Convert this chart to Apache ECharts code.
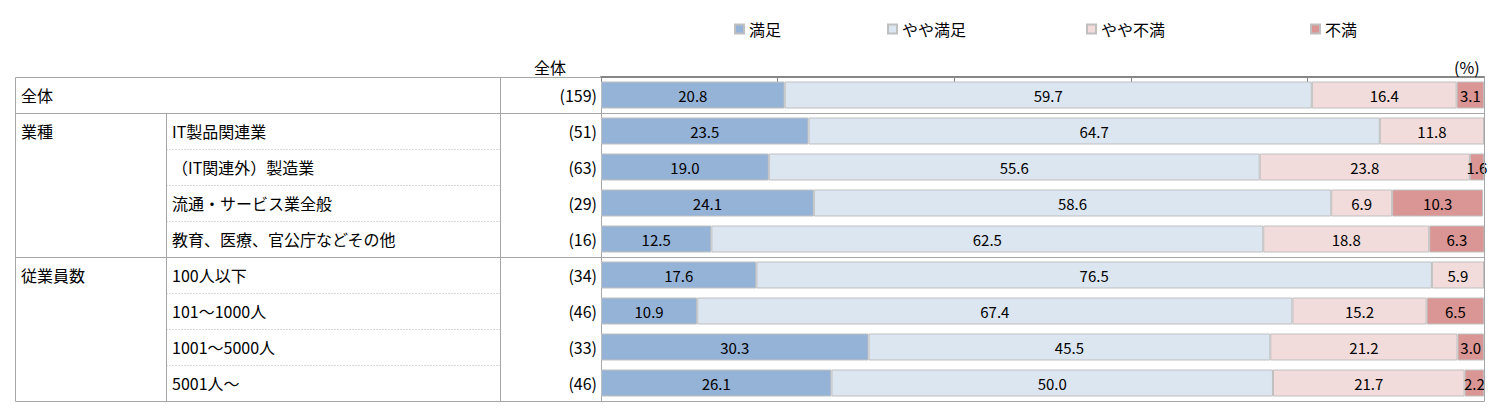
<!DOCTYPE html>
<html lang="ja">
<head>
<meta charset="UTF-8">
<title>満足度</title>
<script src="https://cdn.jsdelivr.net/npm/echarts@6/dist/echarts.min.js"></script>
<style>
    html, body { margin: 0; padding: 0; background: #fff; }
    #main { width: 1502px; height: 420px; }
</style>
</head>
<body>
<div id="main"></div>
<script>
    // 表の行見出し
    var groups = ['全体', '業種', '', '', '', '従業員数', '', '', ''];
    var subs = ['', 'IT製品関連業', '（IT関連外）製造業', '流通・サービス業全般', '教育、医療、官公庁などその他',
        '100人以下', '101～1000人', '1001～5000人', '5001人～'];
    var counts = ['(159)', '(51)', '(63)', '(29)', '(16)', '(34)', '(46)', '(33)', '(46)'];

    // 回答割合 (%)
    var seriesNames = ['満足', 'やや満足', 'やや不満', '不満'];
    var manzoku = [20.8, 23.5, 19.0, 24.1, 12.5, 17.6, 10.9, 30.3, 26.1];
    var yayaManzoku = [59.7, 64.7, 55.6, 58.6, 62.5, 76.5, 67.4, 45.5, 50.0];
    var yayaFuman = [16.4, 11.8, 23.8, 6.9, 18.8, 5.9, 15.2, 21.2, 21.7];
    var fuman = [3.1, 0, 1.6, 10.3, 6.3, 0, 6.5, 3.0, 2.2];

    var colors = ['#95b3d7', '#dce6f1', '#f2dcdb', '#da9694'];
    var font = '"Noto Sans CJK JP", sans-serif';
    var lineColor = '#a6a6a6';

    var chart = echarts.init(document.getElementById('main'), null, {renderer: 'svg'});

    function makeSeries(i, data) {
        return {
            name: seriesNames[i],
            type: 'bar',
            stack: 'all',
            barWidth: '75%',
            data: data,
            itemStyle: {color: colors[i], borderColor: '#bfbfbf', borderWidth: 1},
            label: {
                show: true,
                position: 'inside',
                color: '#000',
                fontSize: 15,
                fontFamily: font,
                formatter: function (p) {
                    return p.value > 0 ? p.value.toFixed(1) : '';
                }
            }
        };
    }

    var legendLeft = [729, 882, 1081, 1305];

    function rowAxis(data, offset, show) {
        return {
            type: 'category',
            position: 'left',
            inverse: true,
            data: data,
            offset: offset,
            axisLine: {show: show, lineStyle: {color: lineColor}},
            axisTick: {show: false},
            axisLabel: {
                margin: offset ? 0 : 4,
                align: offset ? 'left' : 'right',
                fontSize: 16,
                color: '#000',
                fontFamily: font
            }
        };
    }

    chart.setOption({
        animation: false,
        textStyle: {fontFamily: font},
        title: [
            {text: '全体', left: 529, top: 54, textStyle: {fontSize: 16, fontWeight: 'normal', color: '#000', fontFamily: font}},
            {text: '(%)', left: 1449, top: 54, textStyle: {fontSize: 16, fontWeight: 'normal', color: '#000', fontFamily: font}}
        ],
        legend: seriesNames.map(function (n, i) {
            return {
                data: [n],
                left: legendLeft[i],
                top: 16,
                icon: 'rect',
                itemWidth: 9,
                itemHeight: 9,
                itemGap: 4,
                selectedMode: false,
                textStyle: {fontSize: 16, color: '#000', fontFamily: font}
            };
        }),
        grid: {left: 601, right: 18, top: 77, bottom: 19, outerBoundsMode: 'none'},
        xAxis: {
            type: 'value',
            position: 'top',
            min: 0,
            max: 100,
            interval: 20,
            axisLine: {show: true, lineStyle: {color: '#868686', width: 2}},
            axisTick: {show: true, inside: true, length: 5, lineStyle: {color: '#868686'}},
            axisLabel: {show: false},
            splitLine: {show: false}
        },
        yAxis: [
            rowAxis(counts, 0, true),
            rowAxis(subs, 601 - 172, false),
            rowAxis(groups, 601 - 21, false)
        ],
        series: [
            makeSeries(0, manzoku),
            makeSeries(1, yayaManzoku),
            makeSeries(2, yayaFuman),
            makeSeries(3, fuman)
        ]
    });

    // 表の罫線（行の境界は軸から求める）
    function drawTable() {
        var c0 = chart.convertToPixel({yAxisIndex: 0}, counts[0]);
        var c1 = chart.convertToPixel({yAxisIndex: 0}, counts[1]);
        var h = c1 - c0;
        function edge(i) { return Math.round(c0 - h / 2 + i * h) + 0.5; }
        var n = counts.length;
        var xL = 15.5, xSub = 166.5, xN = 500.5, xC = 601;
        var xR = Math.round(chart.convertToPixel({xAxisIndex: 0}, 100)) + 0.5;
        var g = [];
        function line(x1, y1, x2, y2, dashed) {
            g.push({
                type: 'line',
                silent: true,
                z: 10,
                shape: {x1: x1, y1: y1, x2: x2, y2: y2},
                style: {stroke: dashed ? '#b0b0b0' : lineColor, lineWidth: 1, lineDash: dashed ? [1, 2] : null}
            });
        }
        line(xL, edge(0), xC, edge(0));
        [1, 5, n].forEach(function (i) { line(xL, edge(i), xR, edge(i)); });
        line(xL, edge(0), xL, edge(n));
        line(xSub, edge(1), xSub, edge(n));
        line(xN, edge(0), xN, edge(n));
        line(xR, edge(0), xR, edge(n));
        [2, 3, 4, 6, 7, 8].forEach(function (i) { line(xSub, edge(i), xN, edge(i), true); });
        chart.setOption({graphic: g});
    }
    drawTable();
</script>
</body>
</html>
